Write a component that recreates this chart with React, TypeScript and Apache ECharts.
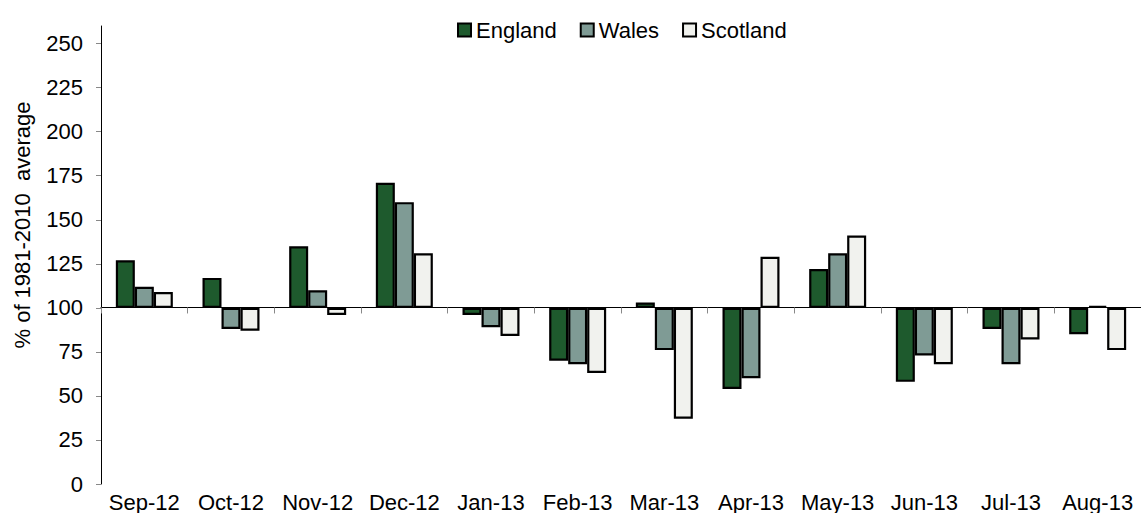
import React, { useEffect, useRef } from "react";
import * as echarts from "echarts";

const months = ["Sep-12", "Oct-12", "Nov-12", "Dec-12", "Jan-13", "Feb-13", "Mar-13", "Apr-13", "May-13", "Jun-13", "Jul-13", "Aug-13"];
const england = [127, 117, 135, 171, 96, 70, 103, 54, 122, 58, 88, 85];
const wales = [112, 88, 110, 160, 89, 68, 76, 60, 131, 73, 68, 101];
const scotland = [109, 87, 96, 131, 84, 63, 37, 129, 141, 68, 82, 76];
const yTicks = [0, 25, 50, 75, 100, 125, 150, 175, 200, 225, 250];
const baseline = 100;

const countries = [
  { name: "England", values: england, color: "#1e5a2d" },
  { name: "Wales", values: wales, color: "#7f9b95" },
  { name: "Scotland", values: scotland, color: "#f1f2ee" },
];

const FONT = "'Liberation Sans', Arial, sans-serif";

export default function App() {
  const ref = useRef<HTMLDivElement>(null);
  useEffect(() => {
    if (!ref.current) return;
    const chart = echarts.init(ref.current, undefined, { renderer: "svg" });
    const series: any[] = [];
    countries.forEach((c) => {
      series.push({
        name: "_base_" + c.name,
        type: "bar",
        stack: c.name,
        xAxisIndex: 0,
        barWidth: 19,
        barGap: "0%",
        silent: true,
        itemStyle: { color: "transparent", borderWidth: 0 },
        data: c.values.map((v) => Math.min(v, baseline)),
      });
      series.push({
        name: c.name,
        type: "bar",
        stack: c.name,
        xAxisIndex: 0,
        barWidth: 19,
        barGap: "0%",
        itemStyle: { color: c.color, borderColor: "#000", borderWidth: 2.2 },
        data: c.values.map((v) => Math.abs(v - baseline)),
      });
    });
    const gridTop = 26;
    const gridHeight = 459;
    const yMax = 260;
    const lineOffset = -(baseline / yMax) * gridHeight;
    chart.setOption({
      animation: false,
      textStyle: { fontFamily: FONT },
      legend: {
        data: countries.map((c) => c.name),
        left: 457,
        top: 19,
        padding: 0,
        icon: "rect",
        itemWidth: 13,
        itemHeight: 13,
        itemGap: 23,
        textStyle: { fontSize: 22, color: "#000", fontFamily: FONT },
      },
      grid: { left: 101, top: gridTop, width: 1044, height: gridHeight, containLabel: false },
      xAxis: [
        {
          type: "category",
          data: months,
          position: "bottom",
          axisLine: { show: false, onZero: false },
          axisTick: { show: false },
          axisLabel: { fontSize: 22, color: "#000", margin: 7, fontFamily: FONT, interval: 0 },
        },
        {
          type: "category",
          data: months,
          position: "bottom",
          offset: lineOffset,
          axisLine: { show: true, onZero: false, lineStyle: { color: "#000", width: 1 } },
          axisTick: { show: true, length: 6, lineStyle: { color: "#888" }, interval: 0 },
          axisLabel: { show: false },
        },
      ],
      yAxis: {
        type: "value",
        min: 0,
        max: yMax,
        interval: 25,
        splitLine: { show: false },
        axisLine: { show: true, lineStyle: { color: "#000", width: 1 } },
        axisTick: { show: true, length: 5, lineStyle: { color: "#888" }, customValues: yTicks },
        axisLabel: { fontSize: 22, color: "#000", margin: 18, fontFamily: FONT, customValues: yTicks },
      },
      graphic: [
        {
          type: "text",
          x: 22,
          y: 225,
          rotation: Math.PI / 2,
          style: {
            text: "% of 1981-2010  average",
            fontSize: 22,
            fontFamily: FONT,
            fill: "#000",
            textAlign: "center",
            textVerticalAlign: "middle",
          },
        },
      ],
      series,
    });
    return () => chart.dispose();
  }, []);
  return <div ref={ref} style={{ position: "absolute", left: 0, top: 0, width: 1141, height: 513 }} />;
}
